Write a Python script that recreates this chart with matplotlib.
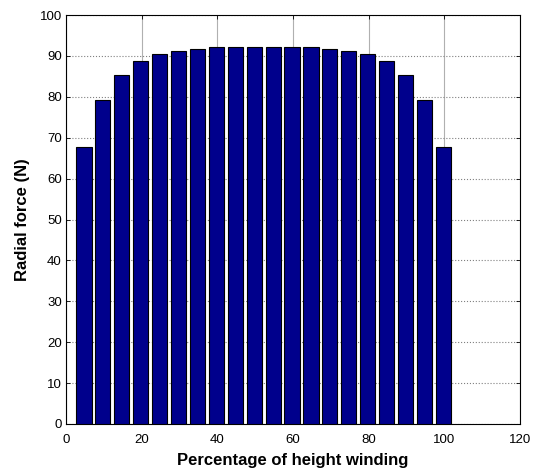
import numpy as np
from matplotlib import pyplot as plt

plt.rcParams['font.family'] = ['Liberation Sans', 'DejaVu Sans']

# percentage of height winding (bar centres) and radial force
position = [4.75, 9.75, 14.75, 19.75, 24.75, 29.75, 34.75, 39.75, 44.75, 49.75,
            54.75, 59.75, 64.75, 69.75, 74.75, 79.75, 84.75, 89.75, 94.75, 99.75]
force = [67.8, 79.3, 85.4, 88.7, 90.4, 91.3, 91.8, 92.1, 92.1, 92.1,
         92.1, 92.1, 92.1, 91.8, 91.3, 90.4, 88.7, 85.4, 79.3, 67.8]

fig = plt.figure(figsize=(5.38, 4.71), dpi=100)
ax = fig.add_axes([0.1227, 0.0998, 0.8438, 0.8683])

ax.bar(position, force, width=4.0, color='#00008c', edgecolor='black',
       linewidth=0.8, zorder=3)

ax.set_xlim(0, 120)
ax.set_ylim(0, 100)
ax.set_xticks(np.arange(0, 121, 20))
ax.set_yticks(np.arange(0, 101, 10))

ax.xaxis.grid(True, color='#b0b0b0', linestyle='-', linewidth=0.8, zorder=0)
ax.yaxis.grid(True, color='#808080', linestyle=':', linewidth=0.8, zorder=0)
ax.set_axisbelow(True)

ax.tick_params(direction='in', top=True, right=True, length=3, width=0.6,
               labelsize=9.5, pad=3)
ax.tick_params(axis='x', pad=7)
for s in ax.spines.values():
    s.set_linewidth(0.8)

ax.set_xlabel('Percentage of height winding', fontsize=12, fontweight='bold',
              labelpad=5)
ax.set_ylabel('Radial force (N)', fontsize=12, fontweight='bold', labelpad=7)

fig.savefig('out.png', dpi=100)
